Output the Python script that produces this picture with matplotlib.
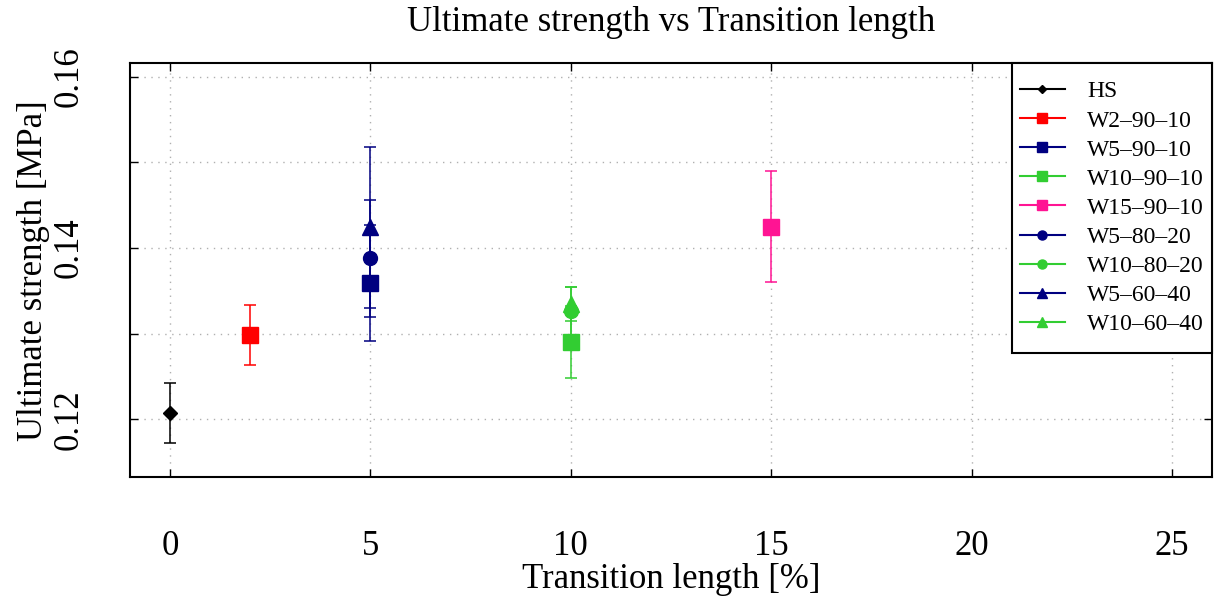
import matplotlib
matplotlib.use("Agg")
import matplotlib.pyplot as plt
from matplotlib.lines import Line2D
from matplotlib.patches import Rectangle

# data
labels = ["HS", "W2–90–10", "W5–90–10", "W10–90–10", "W15–90–10",
          "W5–80–20", "W10–80–20", "W5–60–40", "W10–60–40"]
trans_len = [0, 2, 5, 10, 15, 5, 10, 5, 10]
strength = [0.1208, 0.1298, 0.1359, 0.1290, 0.1425,
            0.1388, 0.1327, 0.1424, 0.1335]
strength_err = [0.0035, 0.0035, 0.0068, 0.0042, 0.0065,
                0.0068, 0.0028, 0.0094, 0.0020]

x_ticks = [0, 5, 10, 15, 20, 25]
y_ticks = [0.12, 0.13, 0.14, 0.15, 0.16]
y_ticklabels = ["0.12", "", "0.14", "", "0.16"]

# styles
colors = ["black", "#ff0000", "#000080", "#32cd32", "#ff1493",
          "#000080", "#32cd32", "#000080", "#32cd32"]
markers = ["D", "s", "s", "s", "s", "o", "o", "^", "^"]
msizes = [7, 11, 11, 11, 11, 10, 10, 12, 12]

plt.rcParams["font.family"] = ["Liberation Serif", "DejaVu Serif"]

fig = plt.figure(figsize=(12.16, 6.08), dpi=100)
ax = fig.add_axes([0.1069, 0.2150, 0.8898, 0.6814])

handles = []
for x, y, e, c, m, ms, lab in zip(trans_len, strength, strength_err,
                                  colors, markers, msizes, labels):
    ax.errorbar([x], [y], yerr=[e], color=c, marker=m, markersize=ms,
                capsize=4, elinewidth=1.1, capthick=1.1, linewidth=1.3)
    handles.append(Line2D([], [], color=c, marker=m, markersize=ms * 0.65,
                          linewidth=1.5, label=lab))

ax.set_xlim(-1, 26)
ax.set_ylim(0.11325, 0.16158)
ax.set_xticks(x_ticks)
ax.set_yticks(y_ticks)
ax.set_yticklabels(y_ticklabels, rotation=90, va="center")
ax.grid(True, linestyle=(0, (1, 4)), color="#b0b0b0", linewidth=1.0)
ax.tick_params(direction="in", top=True, right=True, length=6, width=1,
               labelsize=25)
ax.tick_params(axis="x", pad=38)
ax.tick_params(axis="y", pad=32)
for sp in ax.spines.values():
    sp.set_linewidth(1.5)

ax.set_title("Ultimate strength vs Transition length", fontsize=25, pad=23)
ax.set_xlabel("Transition length [%]", fontsize=25, labelpad=0)
ax.set_ylabel("Ultimate strength [MPa]", fontsize=25, labelpad=2)

# legend box drawn by hand so it can be taller than the entries need
box = (0.815, 0.300, 0.185, 0.700)
ax.add_patch(Rectangle(box[:2], box[2], box[3], transform=ax.transAxes,
                       facecolor="white", edgecolor="black", linewidth=1.5,
                       zorder=5, clip_on=False))
leg = ax.legend(handles=handles, loc="center", bbox_to_anchor=box,
                borderaxespad=0, fontsize=17, handlelength=1.9,
                handletextpad=0.95, labelspacing=0.32, frameon=False,
                borderpad=0.2)
leg.set_zorder(6)

fig.savefig("out.png", dpi=100)
